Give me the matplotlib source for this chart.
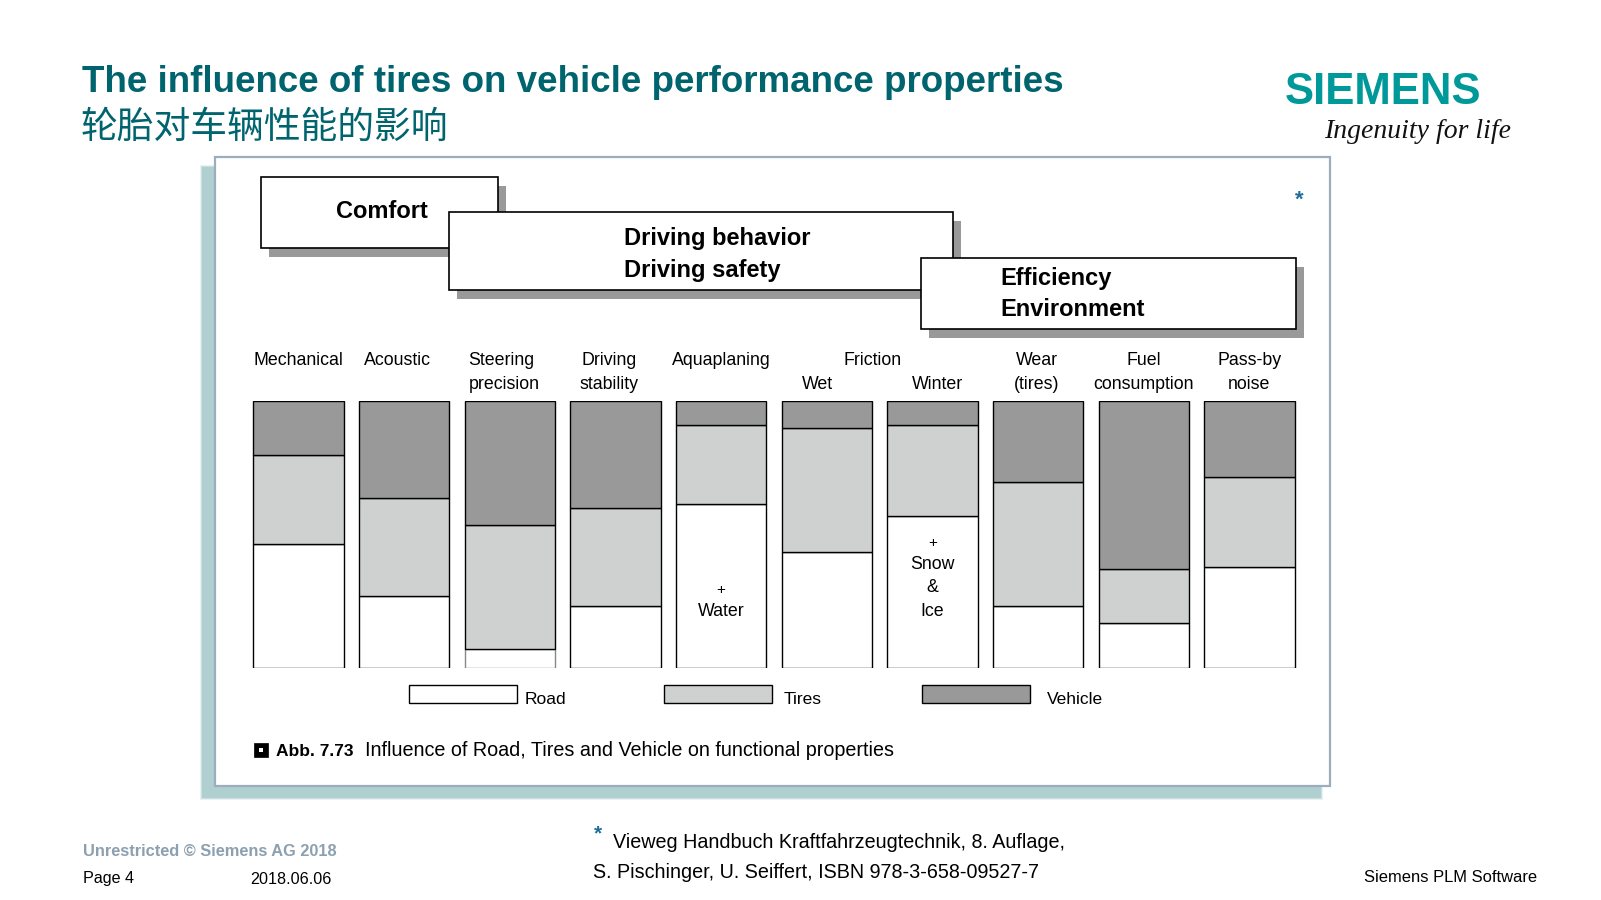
import matplotlib
matplotlib.use("Agg")
import matplotlib.pyplot as plt
import matplotlib.patches as mpatches
import numpy as np

plt.rcParams['font.family'] = ['Liberation Sans', 'Noto Sans CJK SC', 'DejaVu Sans']

# Data: share of road / tires / vehicle influence per property (percent)
categories = ["Mechanical", "Acoustic", "Steering precision", "Driving stability",
              "Aquaplaning", "Friction wet", "Friction winter", "Wear (tires)",
              "Fuel consumption", "Pass-by noise"]
road = [46.6, 26.9, 7.0, 23.3, 61.6, 43.3, 57.1, 23.3, 16.8, 37.7]
tires = [33.2, 36.6, 46.4, 36.8, 29.5, 46.5, 34.0, 46.4, 20.3, 34.0]
vehicle = [20.2, 36.5, 46.6, 39.9, 8.9, 10.2, 8.9, 30.3, 62.9, 28.3]

label_row1 = ["Mechanical", "Acoustic", "Steering", "Driving", "Aquaplaning",
              "", "", "Wear", "Fuel", "Pass-by"]
label_row2 = ["", "", "precision", "stability", "", "Wet", "Winter",
              "(tires)", "consumption", "noise"]
legend_names = ["Road", "Tires", "Vehicle"]

C_ROAD = "#ffffff"
C_TIRES = "#cfd1d0"
C_VEH = "#999999"
TEAL = "#00646e"

W, H = 1601, 900
fig = plt.figure(figsize=(W / 100, H / 100), dpi=100)
fig.patch.set_facecolor("white")

# background axes in pixel coordinates for the slide decoration
bg = fig.add_axes([0, 0, 1, 1])
bg.set_xlim(0, W)
bg.set_ylim(H, 0)
bg.axis("off")

# title
bg.text(82, 92, "The influence of tires on vehicle performance properties",
        fontsize=26.5, fontweight="bold", color=TEAL, va="baseline")
bg.text(81, 127, "轮胎对车辆性能的影响", fontsize=26.5, color=TEAL, va="center",
        family=["Noto Sans CJK SC", "DejaVu Sans"])

# logo
bg.text(1285, 104, "SIEMENS", fontsize=31.5, fontweight="bold", color="#009999",
        va="baseline")
bg.text(1324, 138, "Ingenuity for life", fontsize=20, style="italic",
        family=["Liberation Serif", "DejaVu Serif"], color="#111111", va="baseline")

# panel shadow + panel
for i, a in enumerate([0.25, 0.45, 0.8]):
    d = 3 - i
    bg.add_patch(mpatches.Rectangle((203 - d, 168 - d), 1117 + 2 * d, 629 + 2 * d,
                                    facecolor="#a9cbce", edgecolor="none", alpha=a))
bg.add_patch(mpatches.Rectangle((215, 157), 1115, 629, facecolor="white",
                                edgecolor="#9dadbb", lw=1.6))

# header boxes with drop shadows
boxes = [(261, 177, 237, 71), (449, 212, 504, 78), (921, 258, 375, 71)]
for (x, y, w, h) in boxes:
    bg.add_patch(mpatches.Rectangle((x + 8, y + 9), w, h, facecolor="#999999",
                                    edgecolor="none"))
    bg.add_patch(mpatches.Rectangle((x, y), w, h, facecolor="white",
                                    edgecolor="black", lw=1.2))
bg.text(382, 212, "Comfort", fontsize=17, fontweight="bold", ha="center", va="center")
bg.text(624, 239, "Driving behavior", fontsize=17, fontweight="bold", va="center")
bg.text(624, 270, "Driving safety", fontsize=17, fontweight="bold", va="center")
bg.text(1000, 279, "Efficiency", fontsize=17, fontweight="bold", va="center")
bg.text(1000, 310, "Environment", fontsize=17, fontweight="bold", va="center")
bg.text(1299, 200, "*", fontsize=16, fontweight="bold", color="#1f6e9a",
        ha="center", va="center")

# stacked bars
ax = fig.add_axes([245.6 / W, (H - 668) / H, (1302.3 - 245.6) / W, (668 - 401) / H])
ax.set_xlim(-0.5, 9.5)
ax.set_ylim(0, 100)
ax.axis("off")
x = np.arange(len(categories))
bw = 0.856
road_edges = ["black"] * len(categories)
road_edges[2] = "#888888"
ax.bar(x, road, bw, color=C_ROAD, edgecolor=road_edges, lw=1.0)
ax.bar(x, tires, bw, bottom=road, color=C_TIRES, edgecolor="black", lw=1.0)
ax.bar(x, vehicle, bw, bottom=np.add(road, tires), color=C_VEH, edgecolor="black",
       lw=1.0)

# category labels (small horizontal nudges to follow the original)
nudge = [0, -0.06, 0, -0.06, 0, -0.09, 0.05, -0.01, 0, 0]
y1, y2 = 115.0, 106.0
for i in range(len(categories)):
    if i == 2:
        ax.text(i - 0.39, y1, label_row1[i], fontsize=12.8, ha="left",
                va="center", clip_on=False)
        ax.text(i - 0.39, y2, label_row2[i], fontsize=12.8, ha="left",
                va="center", clip_on=False)
        continue
    if label_row1[i]:
        ax.text(i + nudge[i], y1, label_row1[i], fontsize=12.8, ha="center",
                va="center", clip_on=False)
    if label_row2[i]:
        ax.text(i + nudge[i], y2, label_row2[i], fontsize=12.8, ha="center",
                va="center", clip_on=False)
ax.text(5.43, y1, "Friction", fontsize=12.8, ha="center", va="center",
        clip_on=False)

# notes inside bars
ax.text(4, 29.3, "+", fontsize=11, ha="center", va="center")
ax.text(4, 21.2, "Water", fontsize=12.8, ha="center", va="center")
ax.text(6, 46.8, "+", fontsize=11, ha="center", va="center")
ax.text(6, 38.7, "Snow", fontsize=12.8, ha="center", va="center")
ax.text(6, 30.0, "&", fontsize=12.8, ha="center", va="center")
ax.text(6, 21.2, "Ice", fontsize=12.8, ha="center", va="center")

# legend
leg_x = [409, 664, 922]
leg_gap = [8, 12, 17]
for (lx, gap, name, col) in zip(leg_x, leg_gap, legend_names, [C_ROAD, C_TIRES, C_VEH]):
    bg.add_patch(mpatches.Rectangle((lx, 685), 108, 18, facecolor=col,
                                    edgecolor="black", lw=1.0))
    bg.text(lx + 108 + gap, 699, name, fontsize=12.5, va="center")

# caption
bg.add_patch(mpatches.Rectangle((254, 743), 14, 14, facecolor="black",
                                edgecolor="black", lw=0.5))
bg.add_patch(mpatches.Rectangle((259, 748), 4, 4, facecolor="white",
                                edgecolor="none"))
bg.text(276, 751, "Abb. 7.73", fontsize=12.5, fontweight="bold", va="center")
bg.text(365, 751, "Influence of Road, Tires and Vehicle on functional properties",
        fontsize=14.2, va="center")

# footer
bg.text(83, 852, "Unrestricted \u00a9 Siemens AG 2018", fontsize=11.8,
        fontweight="bold", color="#8ca0b0", va="center")
bg.text(83, 879, "Page 4", fontsize=11.6, va="center")
bg.text(250, 879, "2018.06.06", fontsize=11.6, va="center")
bg.text(1537, 878, "Siemens PLM Software", fontsize=11.9, ha="right", va="center")
bg.text(598, 834, "*", fontsize=15, fontweight="bold", color="#1f6e9a",
        ha="center", va="center")
bg.text(613, 843, "Vieweg Handbuch Kraftfahrzeugtechnik, 8. Auflage,",
        fontsize=14.2, va="center")
bg.text(593, 872, "S. Pischinger, U. Seiffert, ISBN 978-3-658-09527-7",
        fontsize=14.2, va="center")

fig.savefig("out.png", dpi=100)
